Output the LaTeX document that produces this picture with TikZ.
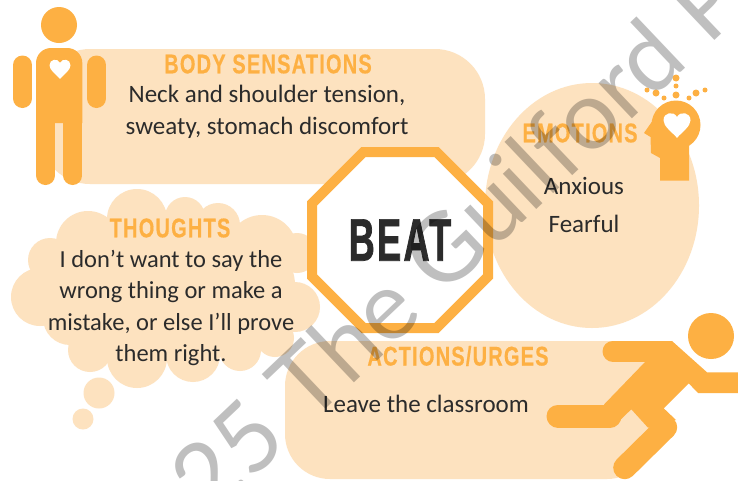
\documentclass[tikz,border=0pt]{standalone}
\usepackage{fontspec}
\usetikzlibrary{shapes.geometric}
\setmainfont{Carlito}
\newfontfamily\headfont[FakeStretch=0.74,LetterSpace=4.5,BoldFeatures={FakeBold=0.5}]{Liberation Sans}
\newfontfamily\beatfont[FakeStretch=0.6,LetterSpace=4,BoldFeatures={FakeBold=1.2}]{Liberation Sans}
\newfontfamily\markfont{Lato}
\definecolor{boxpeach}{HTML}{FDE2BF}
\definecolor{iconorange}{HTML}{FDB043}
\definecolor{inkgray}{HTML}{2B2B2B}
\newcommand{\heartshape}[3]{% x, y, half width
  \fill[white] (#1,#2+0.95*#3) .. controls (#1-0.4*#3,#2+0.5*#3) and (#1-#3,#2+0.1*#3) .. (#1-#3,#2-0.35*#3)
    .. controls (#1-#3,#2-0.95*#3) and (#1-0.25*#3,#2-1.05*#3) .. (#1,#2-0.6*#3)
    .. controls (#1+0.25*#3,#2-1.05*#3) and (#1+#3,#2-0.95*#3) .. (#1+#3,#2-0.35*#3)
    .. controls (#1+#3,#2+0.1*#3) and (#1+0.4*#3,#2+0.5*#3) .. (#1,#2+0.95*#3) -- cycle;}
\begin{document}
\begin{tikzpicture}[
                x=1pt, y=-1pt,
                headtext/.style={font=\headfont\bfseries\fontsize{27}{27}\selectfont, text=iconorange, inner sep=0pt},
                bodytext/.style={font=\fontsize{25}{31.5}\selectfont, text=inkgray, align=center, inner sep=0pt},
                limb/.style={line width=#1, line cap=round, draw=iconorange}
                ]
                \clip (0,0) rectangle (738,480);
                \fill[white] (0,0) rectangle (738,480);

                % peach boxes
                \fill[boxpeach, rounded corners=50pt] (40,49) rectangle (485,184);
                \fill[boxpeach, rounded corners=45pt] (285,341) rectangle (652,479);
                \fill[boxpeach] (592,205.5) ellipse [x radius=107, y radius=122.5];

                % thought cloud
                \fill[boxpeach] (165,285) ellipse [x radius=130, y radius=75];
                \foreach \cx/\cy/\cr in {137/219/30, 185/217/20, 218/225/22, 262/250/35, 297/253/20,
                    88/243/32, 50/260/22, 40/297/29, 70/318/27, 90/350/22, 137/358/30, 193/355/27,
                    240/350/21, 275/338/19, 295/307/25, 99/393/15.5, 83/419/10.5}
                    \fill[boxpeach] (\cx,\cy) circle [radius=\cr];

                % person
                \fill[iconorange] (59,25) circle [radius=18];
                \fill[iconorange] (36,123) [rounded corners=15pt] -- (36,48) -- (82.3,48) [sharp corners] -- (82.3,123) -- cycle;
                \draw[limb=19] (45.5,120) -- (45.5,175.5);
                \draw[limb=19] (72.8,120) -- (72.8,175.5);
                \draw[limb=19] (22.5,65) -- (22.5,98.5);
                \draw[limb=19] (96.5,65) -- (96.5,98.5);
                \heartshape{60}{69}{10.5}

                % emotion head
                \fill[iconorange] (676,125) circle [radius=24.5];
                \fill[iconorange] (660,110) -- (644,133) -- (650.5,137) -- (651,153) -- (660,158) -- (660,180.5) -- (689,180.5) -- (689,140) -- cycle;
                \heartshape{677}{125}{13.5}
                \foreach \cx/\cy/\cr in {676/78/3.5, 676/86/2.5, 676/95/3.5, 664/98/2.5, 656/93/3.5,
                    647/90/2.5, 689/98/2.5, 696/93/3.5, 705/90/2.5}
                    \fill[iconorange] (\cx,\cy) circle [radius=\cr];

                % runner
                \fill[iconorange] (711,336) circle [radius=23];
                \fill[iconorange] (672,341) -- (707,372.3) -- (745,372.3) -- (745,393) -- (698,393) -- (688.7,383.3)
                    -- (663.7,408.3) -- (676,420) -- (648,427.7) -- (631.3,409.3) -- (615,425) -- (610,416)
                    -- (604,404.5) -- (645.3,361.7) -- (613,361.7) -- (613,341) -- cycle;
                \draw[limb=21] (613,351.3) -- (665,351.3);
                \draw[limb=23] (558,416) -- (610,416);
                \draw[limb=23] (624.7,467.7) -- (665.7,427.3);

                % octagon
                \node[regular polygon, regular polygon sides=8, draw=iconorange, fill=white, line width=10pt,
                    minimum size=190.5pt, inner sep=0pt, font=\beatfont\bfseries\fontsize{60}{60}\selectfont, text=inkgray] (beat) at (400,240) {BEAT};

                % labels
                \node[headtext] (bodyhead) at (268,64) {BODY SENSATIONS};
                \node[bodytext] (bodytxt) at (267,112) {Neck and shoulder tension,\\sweaty, stomach discomfort};
                \node[headtext] (thoughthead) at (170,228) {THOUGHTS};
                \node[bodytext, font=\fontsize{24.5}{31.5}\selectfont] (thoughttxt) at (171,308) {I don't want to say the\\wrong thing or make a\\mistake, or else I'll prove\\them right.};
                \node[headtext] (emohead) at (580,133) {EMOTIONS};
                \node[bodytext] (emotxt) at (584,205) {Anxious\\[7pt]Fearful};
                \node[headtext] (actionhead) at (458,356) {ACTIONS/URGES};
                \node[bodytext] (actiontxt) at (426,404) {Leave the classroom};

                % watermark
                \node[font=\markfont\fontsize{96}{96}\selectfont, text=black, opacity=0.25, rotate=43.5, inner sep=0pt] (stamp) at (438,255) {© 2025 The Guilford Press};
\end{tikzpicture}
\end{document}
